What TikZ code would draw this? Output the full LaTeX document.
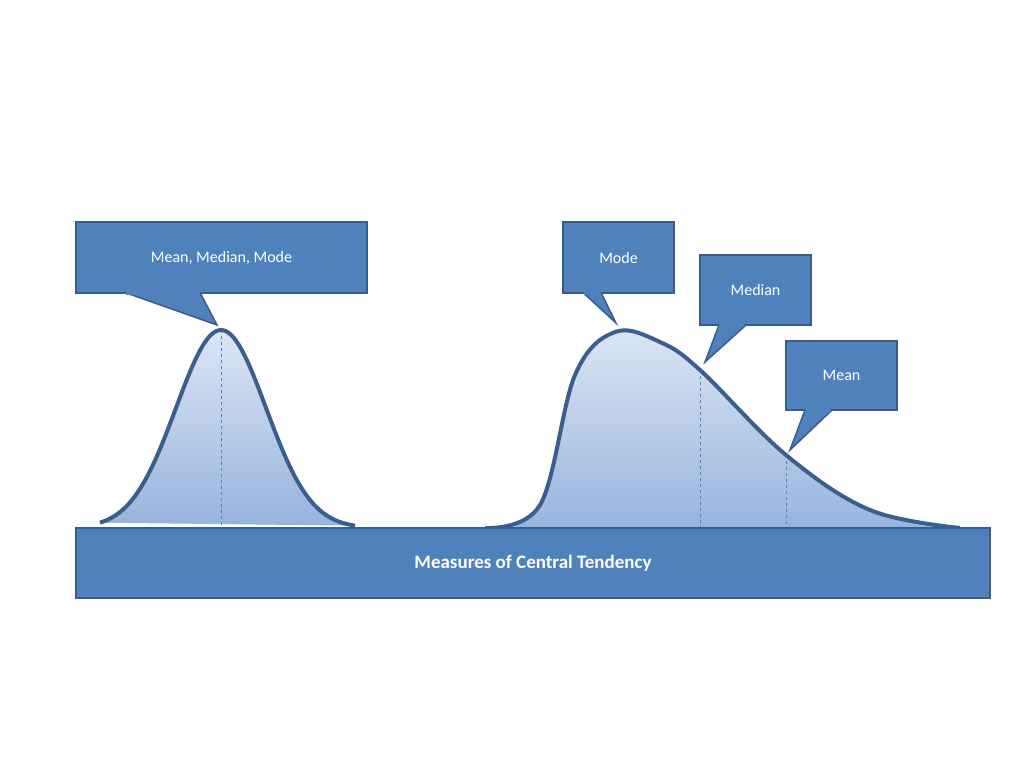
\documentclass[tikz,border=0pt]{standalone}
\usepackage{fontspec}
\setmainfont{Carlito}
\definecolor{barblue}{HTML}{4F81BD}
\definecolor{edgeblue}{HTML}{385D8A}
\definecolor{curveblue}{HTML}{3A5F8F}
\definecolor{toplight}{HTML}{DCE6F4}
\definecolor{botlight}{HTML}{97B3DD}
\tikzset{
  callout/.style={draw=edgeblue,line width=1.5pt,fill=barblue,text=white,font=\fontsize{16}{18}\selectfont,inner sep=0pt},
  curve/.style={draw=curveblue,line width=4pt,line join=round},
  area/.style={top color=toplight,bottom color=botlight,draw=none},
  mark line/.style={draw=barblue,dashed,line width=0.8pt}
}
\begin{document}
\begin{tikzpicture}[x=1pt,y=-1pt]
  \useasboundingbox (0,0) rectangle (1024,768);
  % left curve
  \shade[area] plot[domain=100:355,samples=80] (\x,{528-198*exp(-((\x-221)/45)^2/2)}) -- cycle;
  \draw[mark line] (221,330) -- (221,528);
  \draw[curve] plot[domain=100:355,samples=80] (\x,{528-198*exp(-((\x-221)/45)^2/2)});
  % right curve
  \shade[area] plot[smooth,tension=0.6] coordinates {(485,528) (540,505) (575,375) (615,332) (660,342) (700,370) (786,455) (870,510) (960,528)} -- cycle;
  \draw[mark line] (700,370) -- (700,528);
  \draw[mark line] (786,455) -- (786,528);
  \draw[curve] plot[smooth,tension=0.6] coordinates {(485,528) (540,505) (575,375) (615,332) (660,342) (700,370) (786,455) (870,510) (960,528)};
  % base bar
  \node[draw=edgeblue,line width=1.5pt,fill=barblue,text=white,font=\fontsize{19}{22}\selectfont\bfseries,minimum width=914pt,minimum height=70pt,inner sep=0pt] (bar) at (533,563) {Measures of Central Tendency};
  % callouts
  \node[callout,minimum width=291pt,minimum height=71pt] (all) at (221.5,257.5) {Mean, Median, Mode};
  \coordinate (alltip) at (217,325);
  \fill[barblue,draw=edgeblue,line width=1.5pt] (125,292.5) -- (alltip) -- (200,292.5);
  \fill[barblue] (126,290) -- (199,290) -- (200,295) -- (126,295) -- cycle;
  \node[callout,minimum width=111pt,minimum height=71pt] (mode) at (618.5,257.5) {Mode};
  \coordinate (modetip) at (616,323);
  \fill[barblue,draw=edgeblue,line width=1.5pt] (583,292.5) -- (modetip) -- (601,292.5);
  \fill[barblue] (584,290) -- (600,290) -- (601,295) -- (584,295) -- cycle;
  \node[callout,minimum width=111pt,minimum height=70pt] (median) at (755.5,290) {Median};
  \coordinate (mediantip) at (705,362);
  \fill[barblue,draw=edgeblue,line width=1.5pt] (719,325) -- (mediantip) -- (746,325);
  \fill[barblue] (720,322) -- (745,322) -- (744,327) -- (719,327) -- cycle;
  \node[callout,minimum width=111pt,minimum height=69pt] (mean) at (841.5,375.5) {Mean};
  \coordinate (meantip) at (790,450);
  \fill[barblue,draw=edgeblue,line width=1.5pt] (805,410) -- (meantip) -- (832,410);
  \fill[barblue] (806,407) -- (831,407) -- (830,412) -- (805,412) -- cycle;
\end{tikzpicture}
\end{document}
